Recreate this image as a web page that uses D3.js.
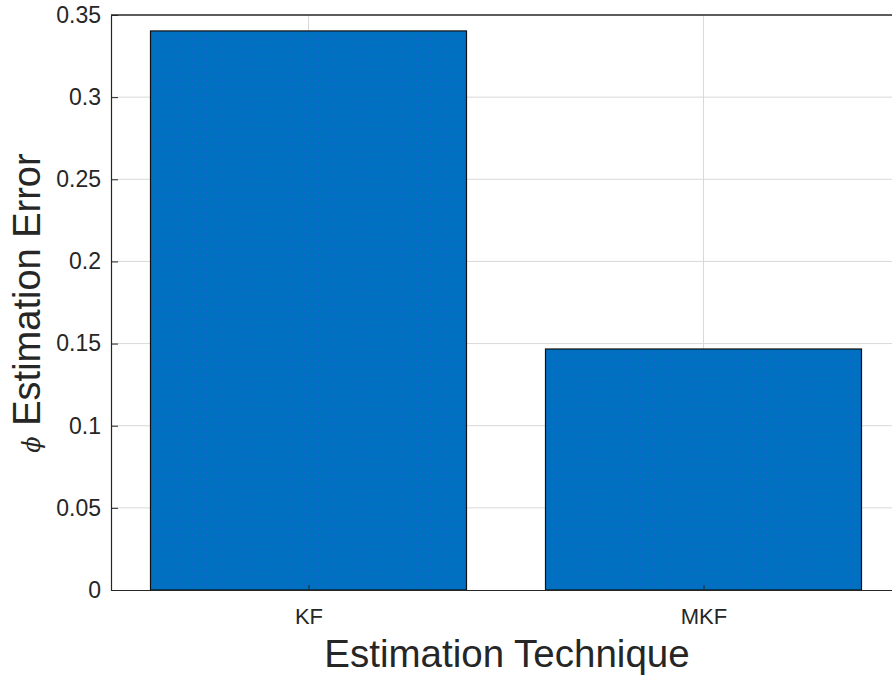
<!DOCTYPE html>
<html>
<head>
<meta charset="utf-8">
<script src="https://cdn.jsdelivr.net/npm/d3@7"></script>
<style>
  html, body { margin: 0; padding: 0; background: #fff; }
  svg { display: block; font-family: "Liberation Sans", Arial, sans-serif; }
</style>
</head>
<body>
<svg id="chart" width="892" height="677"></svg>
<script>
const categories = ["KF", "MKF"];
const values = [0.3403, 0.1467];
const yTicks = [0, 0.05, 0.1, 0.15, 0.2, 0.25, 0.3, 0.35];
const yTickLabels = ["0", "0.05", "0.1", "0.15", "0.2", "0.25", "0.3", "0.35"];
const xLabel = "Estimation Technique";
const yLabel = "Estimation Error";

const svg = d3.select("#chart");
const margin = { left: 111, top: 15, right: 901, bottom: 590 };

const x = d3.scaleLinear().domain([0.5, categories.length + 0.5]).range([margin.left, margin.right]);
const y = d3.scaleLinear().domain([0, 0.35]).range([margin.bottom, margin.top]);

const axisColor = "#262626";

// pattern for bar fill
const defs = svg.append("defs");
const pat = defs.append("pattern").attr("id", "dots").attr("patternUnits", "userSpaceOnUse")
  .attr("width", 7).attr("height", 7);
pat.append("rect").attr("width", 7).attr("height", 7).attr("fill", "#0070C0");
pat.append("circle").attr("cx", 3.5).attr("cy", 3.5).attr("r", 0.9).attr("fill", "#1f5fd6");

// grid
const grid = svg.append("g");
grid.selectAll("line.h").data(yTicks.slice(1, -1)).join("line")
  .attr("x1", margin.left).attr("x2", margin.right)
  .attr("y1", d => y(d)).attr("y2", d => y(d))
  .attr("stroke", "#d9d9d9").attr("stroke-width", 1);
grid.selectAll("line.v").data(categories.map((c, i) => i + 1)).join("line")
  .attr("x1", d => x(d)).attr("x2", d => x(d))
  .attr("y1", margin.top).attr("y2", margin.bottom)
  .attr("stroke", "#d9d9d9").attr("stroke-width", 1);

// bars
const bw = 0.8;
svg.append("g").selectAll("rect").data(values).join("rect")
  .attr("x", (d, i) => x(i + 1 - bw / 2))
  .attr("width", (d, i) => x(i + 1 + bw / 2) - x(i + 1 - bw / 2))
  .attr("y", d => y(d))
  .attr("height", d => y(0) - y(d))
  .attr("fill", "url(#dots)")
  .attr("stroke", "#111").attr("stroke-width", 1.2);

// axes frame
svg.append("line").attr("x1", margin.left).attr("x2", margin.right)
  .attr("y1", margin.top).attr("y2", margin.top).attr("stroke", axisColor).attr("stroke-width", 1.5);

const yAxis = d3.axisLeft(y).tickValues(yTicks).tickFormat((d, i) => yTickLabels[i]).tickSizeInner(-7).tickSizeOuter(0).tickPadding(10);
const gy = svg.append("g").attr("transform", `translate(${margin.left},0)`).call(yAxis);
gy.select(".domain").attr("stroke", axisColor).attr("stroke-width", 1.2);
gy.selectAll(".tick line").attr("stroke", axisColor);
gy.selectAll(".tick text").attr("font-size", 23).attr("fill", axisColor)
  .attr("font-family", "Liberation Sans, Arial, sans-serif");

const xAxis = d3.axisBottom(x).tickValues(categories.map((c, i) => i + 1)).tickFormat((d) => categories[d - 1]).tickSizeInner(-5).tickSizeOuter(0).tickPadding(18);
const gx = svg.append("g").attr("transform", `translate(0,${margin.bottom})`).call(xAxis);
gx.select(".domain").attr("stroke", axisColor).attr("stroke-width", 1.2);
gx.selectAll(".tick line").attr("stroke", axisColor);
gx.selectAll(".tick text").attr("font-size", 22).attr("fill", axisColor)
  .attr("font-family", "Liberation Sans, Arial, sans-serif");

// labels
svg.append("text").attr("x", (margin.left + margin.right) / 2 + 1).attr("y", 667)
  .attr("text-anchor", "middle").attr("font-size", 38.5).attr("fill", axisColor).text(xLabel);

const yl = svg.append("text").attr("transform", `translate(40,${(156 + 450) / 2}) rotate(-90)`)
  .attr("text-anchor", "middle").attr("font-size", 38).attr("fill", axisColor);
yl.append("tspan").attr("font-family", "DejaVu Serif, serif").attr("font-style", "italic").attr("font-size", 24).text("ϕ");
yl.append("tspan").text(" " + yLabel);
</script>
</body>
</html>
